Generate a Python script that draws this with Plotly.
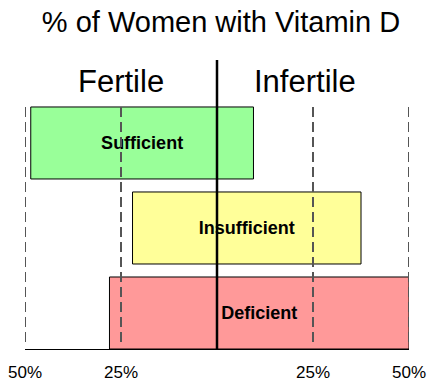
import plotly.graph_objects as go

# ---- data ----
categories = ["Deficient", "Insufficient", "Sufficient"]
fertile_pct = [28, 22, 48.5]      # extends to the left
infertile_pct = [50, 37.5, 9.5]   # extends to the right
bar_colors = ["#FF9999", "#FFFF99", "#99FF99"]
tick_vals = [-50, -25, 25, 50]
tick_text = ["50%", "25%", "25%", "50%"]
group_labels = ["Fertile", "Infertile"]
group_label_x = [-25, 23]

FONT = "Arial, Liberation Sans, sans-serif"

fig = go.Figure()
fig.add_trace(go.Bar(
    y=categories,
    x=[f + i for f, i in zip(fertile_pct, infertile_pct)],
    base=[-f for f in fertile_pct],
    orientation="h",
    width=0.847,
    marker=dict(color=bar_colors, line=dict(color="black", width=1)),
    text=categories,
    textposition="inside",
    insidetextanchor="middle",
    constraintext="none",
    textfont=dict(family=FONT, size=18, color="black", weight="bold"),
    hoverinfo="skip",
))

shapes = []
for v in tick_vals:
    shapes.append(dict(type="line", xref="x", yref="paper", x0=v, x1=v,
                       y0=0.024, y1=0.837, layer="above",
                       line=dict(color="#555555", width=2, dash="10px,5px")))
shapes.append(dict(type="line", xref="x", yref="paper", x0=0, x1=0,
                   y0=0, y1=1, layer="above",
                   line=dict(color="black", width=2.5)))

annotations = []
for lab, xv in zip(group_labels, group_label_x):
    annotations.append(dict(text=lab, x=xv, xref="x", y=0.927, yref="paper",
                            showarrow=False, xanchor="center", yanchor="middle",
                            font=dict(family=FONT, size=31, color="black")))

fig.update_layout(
    width=427, height=384,
    margin=dict(l=25, r=18, t=60, b=35, autoexpand=False),
    paper_bgcolor="white", plot_bgcolor="white",
    showlegend=False,
    title=dict(text="% of Women with Vitamin D", x=221 / 427, xanchor="center",
               y=1 - 22 / 384, yanchor="middle", yref="container",
               automargin=False,
               font=dict(family=FONT, size=29, color="black")),
    xaxis=dict(range=[-50, 50], tickvals=tick_vals, ticktext=tick_text,
               showline=True, linecolor="black", linewidth=1,
               showgrid=False, zeroline=False,
               ticks="outside", ticklen=8, tickcolor="rgba(0,0,0,0)",
               automargin=False,
               tickfont=dict(family=FONT, size=17, color="black"), fixedrange=True),
    yaxis=dict(categoryorder="array", categoryarray=categories,
               range=[-0.4235, 2.976], showticklabels=False, showgrid=False,
               zeroline=False, showline=False, fixedrange=True, automargin=False),
    shapes=shapes,
    annotations=annotations,
)

fig.write_html("out.html", config={"displayModeBar": False},
               post_script="document.body.style.margin='0';document.body.style.overflow='hidden';")
